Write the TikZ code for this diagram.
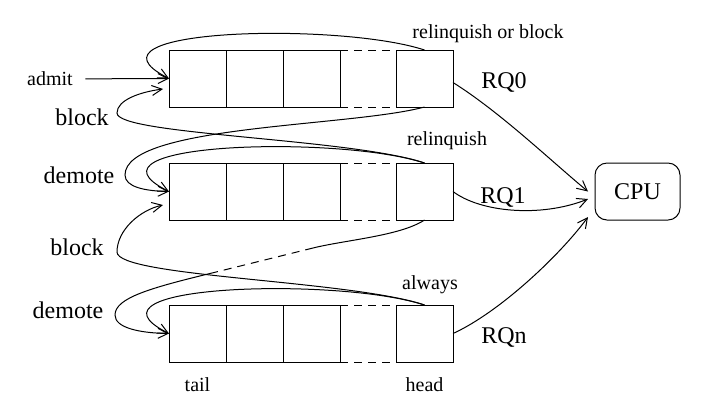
\documentclass[tikz,border=0pt]{standalone}
\usepackage{fontspec}
\setmainfont{Liberation Serif}
\usetikzlibrary{arrows.meta, calc}

\tikzset{
  cell/.style={draw, minimum width=28.5pt, minimum height=28.5pt, inner sep=0pt, outer sep=0pt},
  smalltxt/.style={font=\fontsize{10}{12}\selectfont, inner sep=0pt},
  bigtxt/.style={font=\fontsize{12}{14}\selectfont, inner sep=0pt},
  arr/.style={-{Straight Barb[length=5pt,width=5pt]}},
  gap/.style={dash pattern=on 4pt off 3pt},
}

\begin{document}
\begin{tikzpicture}[x=0.5pt, y=-0.5pt, line width=0.5pt]
  \useasboundingbox (0,0) rectangle (705,409);
  % the run queues
  \foreach \q/\y in {0/78.5, 1/191.5, 2/333.5}{
    \foreach \c/\x in {1/197.5, 2/254.5, 3/311.5}
      \node[cell] (q\q-\c) at (\x,\y) {};
    \node[cell] (q\q-h) at (424.5,\y) {};
    \draw[gap] (q\q-3.north east) -- (q\q-h.north west);
    \draw[gap] (q\q-3.south east) -- (q\q-h.south west);
  }
  \node[cell, rounded corners=6pt, minimum width=42.5pt, font=\fontsize{12}{14}\selectfont] (cpu) at (637.5,191.5) {CPU};

  % labels
  \node[smalltxt] (admit) at (50,79) {admit};
  \node[bigtxt] (blk0) at (82,117) {block};
  \node[bigtxt] (dem1) at (79,175) {demote};
  \node[bigtxt] (blk1) at (77,247) {block};
  \node[bigtxt] (dem2) at (68,310) {demote};
  \node[smalltxt] (rob) at (488,33.5) {relinquish or block};
  \node[smalltxt] (rel) at (447,141) {relinquish};
  \node[smalltxt] (alw) at (430,284.5) {always};
  \node[bigtxt] (rq0) at (504,82) {RQ0};
  \node[bigtxt] (rq1) at (503,197) {RQ1};
  \node[bigtxt] (rqn) at (504,337) {RQn};
  \node[smalltxt] (tail) at (197.5,385) {tail};
  \node[smalltxt] (head) at (424.5,385) {head};

  % free ends
  \coordinate (in0) at (163,89);
  \coordinate (in1) at (163,205);
  \coordinate (d1) at (313,248);
  \coordinate (d2) at (212,273);
  \coordinate (c0) at ($(cpu.west)+(-7,0)$);
  \coordinate (c1) at ($(cpu.west)+(-7,7.5)$);
  \coordinate (c2) at ($(cpu.west)+(-7,25.5)$);

  \draw[arr, shorten <=6pt] (admit) -- (q0-1.west);

  % back to the same queue
  \draw[arr] (q0-h.north) .. controls (340,22) and (70,28) .. (q0-1.west);
  \draw[arr] (q1-h.north) .. controls (340,135) and (70,142) .. (q1-1.west);
  \draw[arr] (q2-h.north) .. controls (340,277) and (70,284) .. (q2-1.west);

  % block: one queue up
  \draw[arr] (q1-h.north) .. controls (350,138) and (117,135) .. (117,113)
    .. controls (117,100) and (140,92) .. (in0);
  \draw[arr] (q2-h.north) .. controls (350,280) and (117,277) .. (117,252)
    .. controls (117,230) and (140,210) .. (in1);

  % demote: one queue down
  \draw[arr] (q0-h.south) .. controls (350,127) and (125,125) .. (125,175)
    .. controls (125,187) and (145,191) .. (q1-1.west);
  \draw (q1-h.south) .. controls (400,236) and (345,240) .. (d1);
  \draw[gap] (d1) -- (d2);
  \draw[arr] (d2) .. controls (150,288) and (115,298) .. (115,315)
    .. controls (115,328) and (140,333) .. (q2-1.west);

  % to the CPU
  \draw[arr] ([yshift=-2pt]q0-h.east) .. controls (500,112) and (550,160) .. (c0);
  \draw[arr] (q1-h.east) .. controls (480,212) and (540,218) .. (c1);
  \draw[arr] (q2-h.east) .. controls (500,312) and (560,255) .. (c2);
\end{tikzpicture}
\end{document}
